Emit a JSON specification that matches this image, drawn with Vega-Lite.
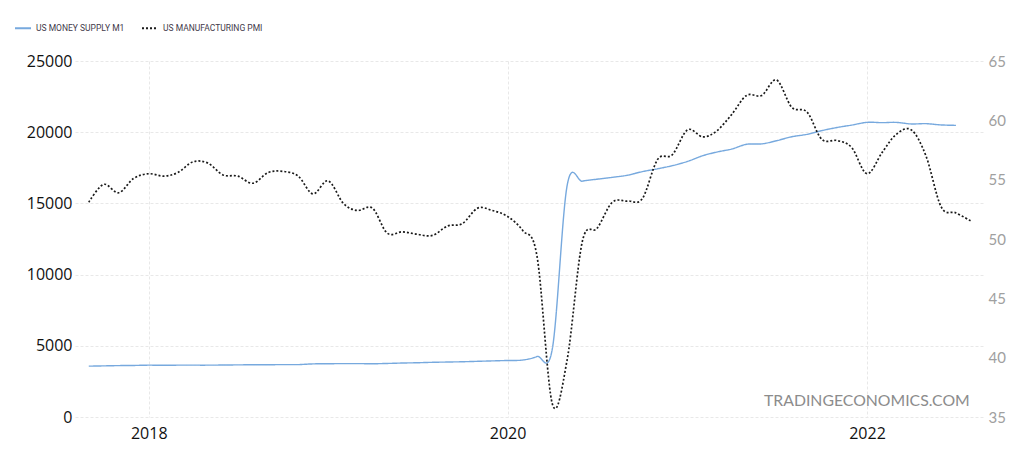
{
  "$schema": "https://vega.github.io/schema/vega-lite/v6.json",
  "width": 908,
  "height": 356,
  "autosize": {"type": "none"},
  "padding": {"left": 75, "top": 61, "right": 41, "bottom": 37},
  "background": "white",
  "config": {
    "view": {"stroke": null},
    "axis": {"domain": false, "ticks": false, "gridColor": "#e8e8e8", "gridDash": [3, 2], "gridWidth": 1}
  },
  "datasets": {
    "m1": [
      {"date": "2017-09-01", "s": "US MONEY SUPPLY M1", "v": 3570},
      {"date": "2017-10-01", "s": "US MONEY SUPPLY M1", "v": 3590},
      {"date": "2017-11-01", "s": "US MONEY SUPPLY M1", "v": 3610},
      {"date": "2017-12-01", "s": "US MONEY SUPPLY M1", "v": 3620},
      {"date": "2018-01-01", "s": "US MONEY SUPPLY M1", "v": 3640},
      {"date": "2018-02-01", "s": "US MONEY SUPPLY M1", "v": 3630},
      {"date": "2018-03-01", "s": "US MONEY SUPPLY M1", "v": 3640},
      {"date": "2018-04-01", "s": "US MONEY SUPPLY M1", "v": 3640},
      {"date": "2018-05-01", "s": "US MONEY SUPPLY M1", "v": 3640},
      {"date": "2018-06-01", "s": "US MONEY SUPPLY M1", "v": 3650},
      {"date": "2018-07-01", "s": "US MONEY SUPPLY M1", "v": 3660},
      {"date": "2018-08-01", "s": "US MONEY SUPPLY M1", "v": 3670},
      {"date": "2018-09-01", "s": "US MONEY SUPPLY M1", "v": 3670},
      {"date": "2018-10-01", "s": "US MONEY SUPPLY M1", "v": 3680},
      {"date": "2018-11-01", "s": "US MONEY SUPPLY M1", "v": 3680},
      {"date": "2018-12-01", "s": "US MONEY SUPPLY M1", "v": 3730},
      {"date": "2019-01-01", "s": "US MONEY SUPPLY M1", "v": 3740},
      {"date": "2019-02-01", "s": "US MONEY SUPPLY M1", "v": 3750},
      {"date": "2019-03-01", "s": "US MONEY SUPPLY M1", "v": 3750},
      {"date": "2019-04-01", "s": "US MONEY SUPPLY M1", "v": 3740},
      {"date": "2019-05-01", "s": "US MONEY SUPPLY M1", "v": 3760},
      {"date": "2019-06-01", "s": "US MONEY SUPPLY M1", "v": 3790},
      {"date": "2019-07-01", "s": "US MONEY SUPPLY M1", "v": 3810},
      {"date": "2019-08-01", "s": "US MONEY SUPPLY M1", "v": 3840},
      {"date": "2019-09-01", "s": "US MONEY SUPPLY M1", "v": 3860},
      {"date": "2019-10-01", "s": "US MONEY SUPPLY M1", "v": 3880},
      {"date": "2019-11-01", "s": "US MONEY SUPPLY M1", "v": 3910},
      {"date": "2019-12-01", "s": "US MONEY SUPPLY M1", "v": 3940},
      {"date": "2020-01-01", "s": "US MONEY SUPPLY M1", "v": 3970},
      {"date": "2020-02-01", "s": "US MONEY SUPPLY M1", "v": 4000},
      {"date": "2020-03-01", "s": "US MONEY SUPPLY M1", "v": 4250},
      {"date": "2020-04-01", "s": "US MONEY SUPPLY M1", "v": 4800},
      {"date": "2020-05-01", "s": "US MONEY SUPPLY M1", "v": 16240},
      {"date": "2020-06-01", "s": "US MONEY SUPPLY M1", "v": 16560},
      {"date": "2020-07-01", "s": "US MONEY SUPPLY M1", "v": 16700},
      {"date": "2020-08-01", "s": "US MONEY SUPPLY M1", "v": 16830},
      {"date": "2020-09-01", "s": "US MONEY SUPPLY M1", "v": 16980},
      {"date": "2020-10-01", "s": "US MONEY SUPPLY M1", "v": 17230},
      {"date": "2020-11-01", "s": "US MONEY SUPPLY M1", "v": 17430},
      {"date": "2020-12-01", "s": "US MONEY SUPPLY M1", "v": 17650},
      {"date": "2021-01-01", "s": "US MONEY SUPPLY M1", "v": 17950},
      {"date": "2021-02-01", "s": "US MONEY SUPPLY M1", "v": 18350},
      {"date": "2021-03-01", "s": "US MONEY SUPPLY M1", "v": 18600},
      {"date": "2021-04-01", "s": "US MONEY SUPPLY M1", "v": 18820},
      {"date": "2021-05-01", "s": "US MONEY SUPPLY M1", "v": 19150},
      {"date": "2021-06-01", "s": "US MONEY SUPPLY M1", "v": 19180},
      {"date": "2021-07-01", "s": "US MONEY SUPPLY M1", "v": 19400},
      {"date": "2021-08-01", "s": "US MONEY SUPPLY M1", "v": 19680},
      {"date": "2021-09-01", "s": "US MONEY SUPPLY M1", "v": 19850},
      {"date": "2021-10-01", "s": "US MONEY SUPPLY M1", "v": 20110},
      {"date": "2021-11-01", "s": "US MONEY SUPPLY M1", "v": 20330},
      {"date": "2021-12-01", "s": "US MONEY SUPPLY M1", "v": 20500},
      {"date": "2022-01-01", "s": "US MONEY SUPPLY M1", "v": 20690},
      {"date": "2022-02-01", "s": "US MONEY SUPPLY M1", "v": 20670},
      {"date": "2022-03-01", "s": "US MONEY SUPPLY M1", "v": 20690},
      {"date": "2022-04-01", "s": "US MONEY SUPPLY M1", "v": 20580},
      {"date": "2022-05-01", "s": "US MONEY SUPPLY M1", "v": 20600},
      {"date": "2022-06-01", "s": "US MONEY SUPPLY M1", "v": 20510},
      {"date": "2022-07-01", "s": "US MONEY SUPPLY M1", "v": 20480}
    ],
    "pmi": [
      {"date": "2017-09-01", "s": "US MANUFACTURING PMI", "v": 53.1},
      {"date": "2017-10-01", "s": "US MANUFACTURING PMI", "v": 54.6},
      {"date": "2017-11-01", "s": "US MANUFACTURING PMI", "v": 53.9},
      {"date": "2017-12-01", "s": "US MANUFACTURING PMI", "v": 55.1},
      {"date": "2018-01-01", "s": "US MANUFACTURING PMI", "v": 55.5},
      {"date": "2018-02-01", "s": "US MANUFACTURING PMI", "v": 55.3},
      {"date": "2018-03-01", "s": "US MANUFACTURING PMI", "v": 55.6},
      {"date": "2018-04-01", "s": "US MANUFACTURING PMI", "v": 56.5},
      {"date": "2018-05-01", "s": "US MANUFACTURING PMI", "v": 56.4},
      {"date": "2018-06-01", "s": "US MANUFACTURING PMI", "v": 55.4},
      {"date": "2018-07-01", "s": "US MANUFACTURING PMI", "v": 55.3},
      {"date": "2018-08-01", "s": "US MANUFACTURING PMI", "v": 54.7},
      {"date": "2018-09-01", "s": "US MANUFACTURING PMI", "v": 55.6},
      {"date": "2018-10-01", "s": "US MANUFACTURING PMI", "v": 55.7},
      {"date": "2018-11-01", "s": "US MANUFACTURING PMI", "v": 55.3},
      {"date": "2018-12-01", "s": "US MANUFACTURING PMI", "v": 53.8},
      {"date": "2019-01-01", "s": "US MANUFACTURING PMI", "v": 54.9},
      {"date": "2019-02-01", "s": "US MANUFACTURING PMI", "v": 53.0},
      {"date": "2019-03-01", "s": "US MANUFACTURING PMI", "v": 52.4},
      {"date": "2019-04-01", "s": "US MANUFACTURING PMI", "v": 52.6},
      {"date": "2019-05-01", "s": "US MANUFACTURING PMI", "v": 50.5},
      {"date": "2019-06-01", "s": "US MANUFACTURING PMI", "v": 50.6},
      {"date": "2019-07-01", "s": "US MANUFACTURING PMI", "v": 50.4},
      {"date": "2019-08-01", "s": "US MANUFACTURING PMI", "v": 50.3},
      {"date": "2019-09-01", "s": "US MANUFACTURING PMI", "v": 51.1},
      {"date": "2019-10-01", "s": "US MANUFACTURING PMI", "v": 51.3},
      {"date": "2019-11-01", "s": "US MANUFACTURING PMI", "v": 52.6},
      {"date": "2019-12-01", "s": "US MANUFACTURING PMI", "v": 52.4},
      {"date": "2020-01-01", "s": "US MANUFACTURING PMI", "v": 51.9},
      {"date": "2020-02-01", "s": "US MANUFACTURING PMI", "v": 50.7},
      {"date": "2020-03-01", "s": "US MANUFACTURING PMI", "v": 48.5},
      {"date": "2020-04-01", "s": "US MANUFACTURING PMI", "v": 36.1},
      {"date": "2020-05-01", "s": "US MANUFACTURING PMI", "v": 39.8},
      {"date": "2020-06-01", "s": "US MANUFACTURING PMI", "v": 49.8},
      {"date": "2020-07-01", "s": "US MANUFACTURING PMI", "v": 50.9},
      {"date": "2020-08-01", "s": "US MANUFACTURING PMI", "v": 53.1},
      {"date": "2020-09-01", "s": "US MANUFACTURING PMI", "v": 53.2},
      {"date": "2020-10-01", "s": "US MANUFACTURING PMI", "v": 53.4},
      {"date": "2020-11-01", "s": "US MANUFACTURING PMI", "v": 56.7},
      {"date": "2020-12-01", "s": "US MANUFACTURING PMI", "v": 57.1},
      {"date": "2021-01-01", "s": "US MANUFACTURING PMI", "v": 59.2},
      {"date": "2021-02-01", "s": "US MANUFACTURING PMI", "v": 58.6},
      {"date": "2021-03-01", "s": "US MANUFACTURING PMI", "v": 59.1},
      {"date": "2021-04-01", "s": "US MANUFACTURING PMI", "v": 60.5},
      {"date": "2021-05-01", "s": "US MANUFACTURING PMI", "v": 62.1},
      {"date": "2021-06-01", "s": "US MANUFACTURING PMI", "v": 62.1},
      {"date": "2021-07-01", "s": "US MANUFACTURING PMI", "v": 63.4},
      {"date": "2021-08-01", "s": "US MANUFACTURING PMI", "v": 61.1},
      {"date": "2021-09-01", "s": "US MANUFACTURING PMI", "v": 60.7},
      {"date": "2021-10-01", "s": "US MANUFACTURING PMI", "v": 58.4},
      {"date": "2021-11-01", "s": "US MANUFACTURING PMI", "v": 58.3},
      {"date": "2021-12-01", "s": "US MANUFACTURING PMI", "v": 57.7},
      {"date": "2022-01-01", "s": "US MANUFACTURING PMI", "v": 55.5},
      {"date": "2022-02-01", "s": "US MANUFACTURING PMI", "v": 57.3},
      {"date": "2022-03-01", "s": "US MANUFACTURING PMI", "v": 58.8},
      {"date": "2022-04-01", "s": "US MANUFACTURING PMI", "v": 59.2},
      {"date": "2022-05-01", "s": "US MANUFACTURING PMI", "v": 57.0},
      {"date": "2022-06-01", "s": "US MANUFACTURING PMI", "v": 52.7},
      {"date": "2022-07-01", "s": "US MANUFACTURING PMI", "v": 52.2},
      {"date": "2022-08-01", "s": "US MANUFACTURING PMI", "v": 51.5}
    ],
    "credit": [
      {"label": "TRADINGECONOMICS.COM"}
    ]
  },
  "layer": [
    {
      "data": {"name": "m1"},
      "mark": {"type": "line", "interpolate": "cardinal", "strokeWidth": 1.4},
      "encoding": {
        "x": {
          "field": "date", "type": "temporal",
          "scale": {"domain": [{"year": 2017, "month": 8, "date": 4}, {"year": 2022, "month": 8, "date": 25}]},
          "axis": {
            "title": null, "grid": true, "format": "%Y",
            "values": [{"year": 2018, "month": 1, "date": 1}, {"year": 2020, "month": 1, "date": 1}, {"year": 2022, "month": 1, "date": 1}],
            "labelFont": "Open Sans", "labelFontSize": 16, "labelColor": "#111111", "labelPadding": 8
          }
        },
        "y": {
          "field": "v", "type": "quantitative",
          "scale": {"domain": [0, 25000], "nice": false, "zero": false},
          "axis": {
            "orient": "left", "title": null, "format": "d",
            "values": [0, 5000, 10000, 15000, 20000, 25000],
            "labelFont": "Open Sans", "labelFontSize": 16, "labelColor": "#111111", "labelPadding": 3
          }
        },
        "color": {
          "field": "s", "type": "nominal",
          "scale": {"domain": ["US MONEY SUPPLY M1", "US MANUFACTURING PMI"], "range": ["#77a9de", "#1a1a1a"]},
          "legend": {"title": null, "orient": "none", "direction": "horizontal", "legendX": -61, "legendY": -42, "labelFont": "Roboto", "labelFontSize": 8.5, "labelColor": "#3f3a4a", "symbolType": "stroke", "symbolSize": 256, "symbolStrokeWidth": 2, "columnPadding": 13, "labelOffset": 4, "padding": 0}
        },
        "strokeDash": {
          "field": "s", "type": "nominal",
          "scale": {"domain": ["US MONEY SUPPLY M1", "US MANUFACTURING PMI"], "range": [[1, 0], [2, 2]]},
          "legend": {"title": null, "orient": "none", "direction": "horizontal", "legendX": -61, "legendY": -42, "labelFont": "Roboto", "labelFontSize": 8.5, "labelColor": "#3f3a4a", "symbolType": "stroke", "symbolSize": 256, "symbolStrokeWidth": 2, "columnPadding": 13, "labelOffset": 4, "padding": 0}
        }
      }
    },
    {
      "data": {"name": "pmi"},
      "mark": {"type": "line", "interpolate": "cardinal", "strokeWidth": 1.7},
      "encoding": {
        "x": {"field": "date", "type": "temporal"},
        "y": {
          "field": "v", "type": "quantitative",
          "scale": {"domain": [35, 65], "nice": false, "zero": false},
          "axis": {
            "orient": "right", "title": null,
            "values": [35, 40, 45, 50, 55, 60, 65],
            "labelFont": "Lato", "labelFontSize": 15, "labelColor": "#a0a0a0", "labelPadding": 5
          }
        },
        "color": {"field": "s", "type": "nominal"},
        "strokeDash": {"field": "s", "type": "nominal"}
      }
    },
    {
      "data": {"name": "credit"},
      "mark": {"type": "text", "align": "right", "baseline": "middle", "font": "Lato", "fontSize": 15.8, "color": "#8c8c8c"},
      "encoding": {
        "text": {"field": "label", "type": "nominal"},
        "x": {"datum": {"year": 2022, "month": 7, "date": 29}, "type": "temporal"},
        "y": {"datum": 1124, "type": "quantitative", "scale": {"domain": [0, 25000], "nice": false, "zero": false}, "axis": null}
      }
    }
  ],
  "resolve": {"scale": {"y": "independent"}}
}
